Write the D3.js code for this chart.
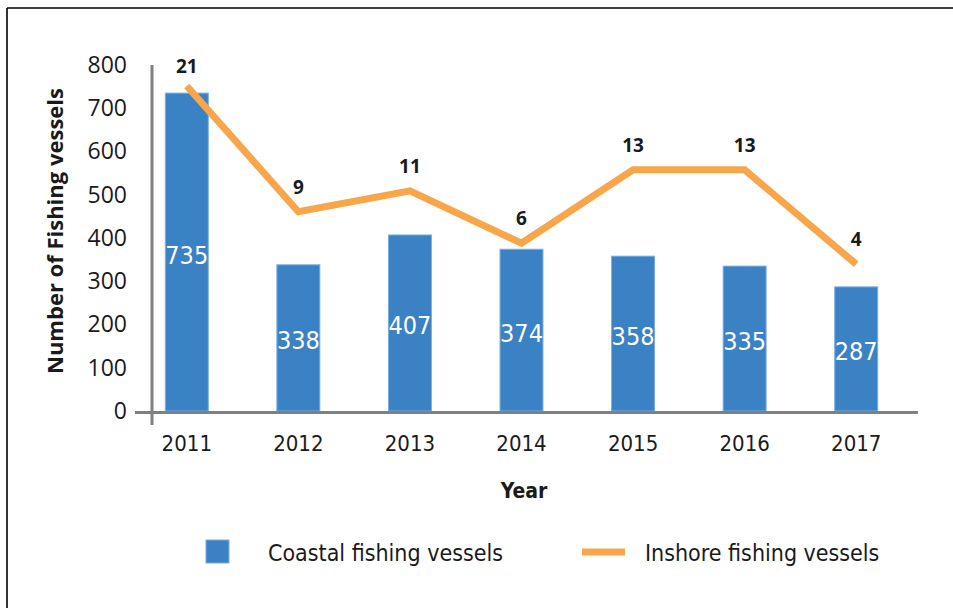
<!DOCTYPE html>
<html>
<head>
<meta charset="utf-8">
<script src="https://cdn.jsdelivr.net/npm/d3@7"></script>
<style>
  body { margin: 0; background: #fff; }
  svg { display: block; }
</style>
</head>
<body>
<div id="chart"></div>
<script>
// Chart data
var years = ["2011", "2012", "2013", "2014", "2015", "2016", "2017"];
var coastal = [735, 338, 407, 374, 358, 335, 287];
var inshore = [21, 9, 11, 6, 13, 13, 4];
var yTicks = [0, 100, 200, 300, 400, 500, 600, 700, 800];

var svgWidth = 953;
var svgHeight = 608;

var blue = "#3a82c4";
var orange = "#f9a54a";
var axisGray = "#808080";
var narrow = "'Liberation Sans Narrow', 'DejaVu Sans Condensed', sans-serif";
var sans = "'Open Sans', 'Noto Sans', sans-serif";

var svg = d3.select("#chart")
  .append("svg")
  .attr("width", svgWidth)
  .attr("height", svgHeight);

// Frame (top and left edges only)
svg.append("line")
  .attr("x1", 7).attr("x2", svgWidth).attr("y1", 8).attr("y2", 8)
  .attr("stroke", "#000").attr("stroke-width", 1.6);
svg.append("line")
  .attr("x1", 7).attr("x2", 7).attr("y1", 8).attr("y2", svgHeight)
  .attr("stroke", "#000").attr("stroke-width", 1.6);

// Scales
var xScale = d3.scaleBand()
  .domain(years)
  .range([131, 912])
  .paddingInner(0.615)
  .paddingOuter(0.3075);

var yScale = d3.scaleLinear()
  .domain([0, 800])
  .range([411, 65]);

// hidden secondary axis for the inshore line
var y2Scale = d3.scaleLinear()
  .domain([-10, 23])
  .range([411, 65]);

// Y axis tick labels
var yAxis = d3.axisLeft(yScale)
  .tickValues(yTicks)
  .tickSize(0)
  .tickPadding(0);

svg.append("g")
  .attr("class", "yAxis")
  .attr("transform", "translate(127, 0)")
  .call(yAxis)
  .call(g => g.select(".domain").remove())
  .selectAll("text")
  .attr("font-family", sans)
  .attr("font-size", "23px")
  .attr("fill", "#1a1a1a");

// X axis tick labels
var xAxis = d3.axisBottom(xScale).tickSize(0).tickPadding(0);

svg.append("g")
  .attr("class", "xAxis")
  .attr("transform", "translate(0, 435)")
  .call(xAxis)
  .call(g => g.select(".domain").remove())
  .selectAll("text")
  .attr("dy", "0.71em")
  .attr("font-family", narrow)
  .attr("font-size", "22px")
  .attr("fill", "#1a1a1a");

// Bars
var barGroup = svg.append("g");
barGroup.selectAll("rect")
  .data(coastal)
  .enter()
  .append("rect")
  .attr("x", (d, i) => xScale(years[i]))
  .attr("y", d => yScale(d))
  .attr("width", xScale.bandwidth())
  .attr("height", d => yScale(0) - yScale(d))
  .attr("fill", blue)
  .attr("stroke", "#79aee0")
  .attr("stroke-width", 1);

// Bar value labels
barGroup.selectAll("text")
  .data(coastal)
  .enter()
  .append("text")
  .attr("x", (d, i) => xScale(years[i]) + xScale.bandwidth() / 2)
  .attr("y", d => (yScale(d) + yScale(0)) / 2 + 3)
  .attr("text-anchor", "middle")
  .attr("dominant-baseline", "central")
  .attr("font-family", narrow)
  .attr("font-size", "25px")
  .attr("fill", "#fff")
  .text(d => d);

// Axis lines
svg.append("line")
  .attr("x1", 135).attr("x2", 918)
  .attr("y1", yScale(0) + 1.5).attr("y2", yScale(0) + 1.5)
  .attr("stroke", axisGray).attr("stroke-width", 3);
svg.append("line")
  .attr("x1", 152).attr("x2", 152)
  .attr("y1", yScale(800)).attr("y2", yScale(0) + 14)
  .attr("stroke", axisGray).attr("stroke-width", 3);

// Inshore line
var line = d3.line()
  .x((d, i) => xScale(years[i]) + xScale.bandwidth() / 2)
  .y(d => y2Scale(d));

svg.append("path")
  .datum(inshore)
  .attr("d", line)
  .attr("fill", "none")
  .attr("stroke", orange)
  .attr("stroke-width", 7)
  .attr("stroke-linejoin", "miter");

// Inshore value labels
svg.append("g").selectAll("text")
  .data(inshore)
  .enter()
  .append("text")
  .attr("x", (d, i) => xScale(years[i]) + xScale.bandwidth() / 2)
  .attr("y", d => Math.max(y2Scale(d) - 25, 66))
  .attr("text-anchor", "middle")
  .attr("dominant-baseline", "central")
  .attr("font-family", sans)
  .attr("font-weight", "bold")
  .attr("font-size", "19px")
  .attr("fill", "#1a1a1a")
  .text(d => d);

// Axis titles
svg.append("text")
  .attr("transform", "translate(63, 231) rotate(-90)")
  .attr("text-anchor", "middle")
  .attr("font-family", sans)
  .attr("font-weight", "bold")
  .attr("font-size", "22px")
  .attr("fill", "#1a1a1a")
  .text("Number of Fishing vessels");

svg.append("text")
  .attr("x", 524)
  .attr("y", 498)
  .attr("text-anchor", "middle")
  .attr("font-family", narrow)
  .attr("font-weight", "bold")
  .attr("font-size", "21px")
  .attr("fill", "#1a1a1a")
  .text("Year");

// Legend
var legend = svg.append("g");
legend.append("rect")
  .attr("x", 206).attr("y", 540)
  .attr("width", 23).attr("height", 23)
  .attr("fill", blue)
  .attr("stroke", "#79aee0").attr("stroke-width", 1);
legend.append("text")
  .attr("x", 268).attr("y", 561)
  .attr("font-family", narrow)
  .attr("font-size", "23px")
  .attr("fill", "#1a1a1a")
  .text("Coastal fishing vessels");
legend.append("line")
  .attr("x1", 582).attr("x2", 625)
  .attr("y1", 552).attr("y2", 552)
  .attr("stroke", orange).attr("stroke-width", 7);
legend.append("text")
  .attr("x", 645).attr("y", 561)
  .attr("font-family", narrow)
  .attr("font-size", "23px")
  .attr("fill", "#1a1a1a")
  .text("Inshore fishing vessels");
</script>
</body>
</html>
